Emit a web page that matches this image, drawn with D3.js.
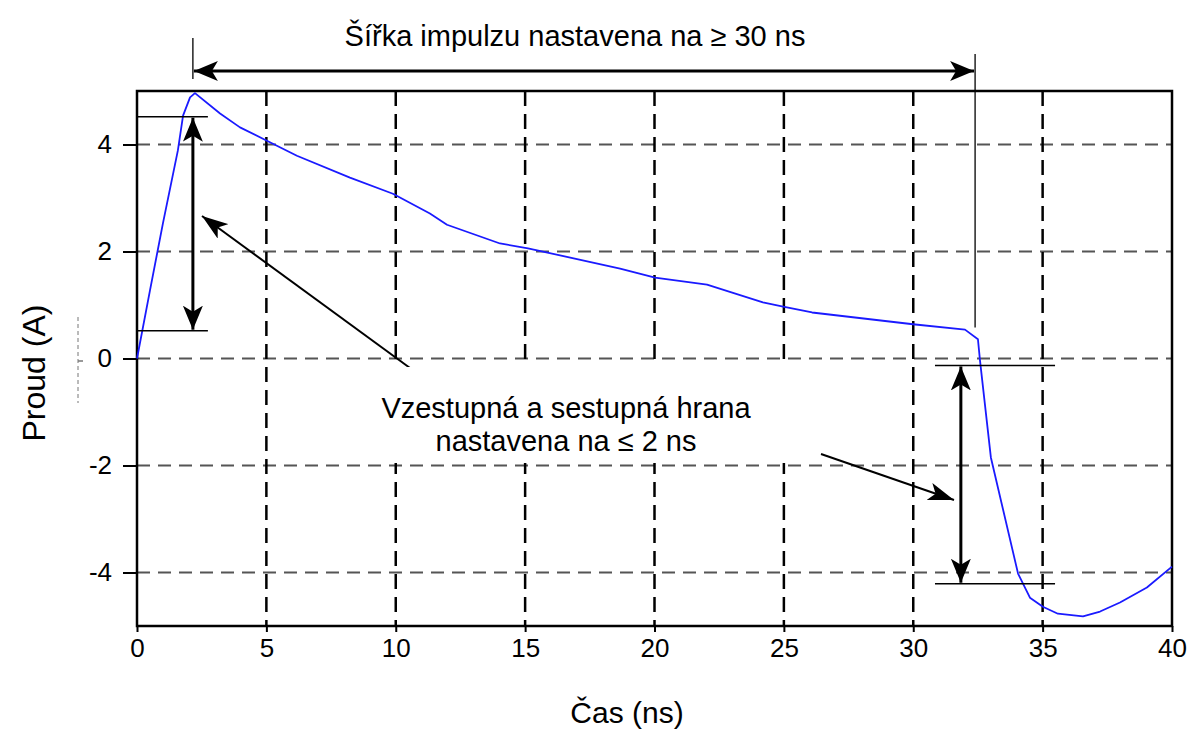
<!DOCTYPE html>
<html>
<head>
<meta charset="utf-8">
<script src="https://cdn.jsdelivr.net/npm/d3@7"></script>
<style>
  html, body { margin: 0; padding: 0; background: #fff; }
  svg { display: block; font-family: "Liberation Sans", Arial, sans-serif; }
</style>
</head>
<body>
<svg id="chart" width="1190" height="729"></svg>
<script>
// Pulse waveform: time (ns) and current (A)
const timeNs = [0, 0.5, 1.0, 1.58, 1.78, 2.05, 2.24, 3.21, 3.98, 5.02, 6.18, 8.23, 9.89, 11.32, 11.98,
  14.03, 15.11, 18.67, 20.02, 22.03, 24.19, 24.97, 26.09, 29.99, 32.0, 32.5, 32.58, 33.0, 34.05,
  34.51, 35.01, 35.59, 36.56, 37.22, 37.99, 39.03, 40.0];
const currentA = [0, 1.27, 2.52, 3.89, 4.54, 4.88, 4.96, 4.58, 4.32, 4.07, 3.79, 3.38, 3.08, 2.71, 2.50,
  2.15, 2.06, 1.68, 1.51, 1.38, 1.05, 0.97, 0.86, 0.64, 0.54, 0.36, -0.04, -1.85, -4.02,
  -4.47, -4.64, -4.77, -4.82, -4.73, -4.56, -4.28, -3.89];

const xTicks = [0, 5, 10, 15, 20, 25, 30, 35, 40];
const yTicks = [-4, -2, 0, 2, 4];

const titleText = "Šířka impulzu nastavena na \u2265 30 ns";
const edgeText = ["Vzestupná a sestupná hrana", "nastavena na \u2264 2 ns"];
const xLabel = "Čas (ns)";
const yLabel = "Proud (A)";

// Annotation anchors in data units
const widthStart = 2.16, widthEnd = 32.39;     // pulse width markers (ns)
const riseTop = 4.52, riseBottom = 0.52;       // rising edge bracket (A)
const fallTop = -0.13, fallBottom = -4.21;     // falling edge bracket (A)
const fallArrowX = 31.84;

const svg = d3.select("#chart");
const margin = { left: 137, top: 91, right: 18, bottom: 103 };
const W = 1190, H = 729;
const x = d3.scaleLinear().domain([0, 40]).range([margin.left, W - margin.right]);
const y = d3.scaleLinear().domain([-5, 5]).range([H - margin.bottom, margin.top]);

// Arrowhead markers
const defs = svg.append("defs");
function marker(id, w, h) {
  defs.append("marker").attr("id", id)
    .attr("viewBox", `0 -${h / 2} ${w} ${h}`).attr("refX", w).attr("refY", 0)
    .attr("markerUnits", "userSpaceOnUse").attr("markerWidth", w).attr("markerHeight", h)
    .attr("orient", "auto-start-reverse")
    .append("path").attr("d", `M0,-${h / 2}L${w},0L0,${h / 2}L${w * 0.25},0Z`).attr("fill", "#000");
}
marker("headBig", 24, 20);
marker("headThin", 26, 18);

// Grid lines
const grid = svg.append("g");
grid.selectAll(".hg").data(yTicks).join("line")
  .attr("x1", x(0)).attr("x2", x(40))
  .attr("y1", d => y(d)).attr("y2", d => y(d))
  .attr("stroke", "#555").attr("stroke-width", 2).attr("stroke-dasharray", "13,8");
grid.selectAll(".vg").data(xTicks.filter(d => d > 0 && d < 40)).join("line")
  .attr("x1", d => x(d)).attr("x2", d => x(d))
  .attr("y1", y(5)).attr("y2", y(-5))
  .attr("stroke", "#000").attr("stroke-width", 2.5).attr("stroke-dasharray", "15,8");

// Axes
const xAxis = svg.append("g").attr("transform", `translate(0,${y(-5)})`)
  .call(d3.axisBottom(x).tickValues(xTicks).tickSize(6).tickPadding(7).tickFormat(d => String(d)));
const yAxis = svg.append("g").attr("transform", `translate(${x(0)},0)`)
  .call(d3.axisLeft(y).tickValues(yTicks).tickSize(14).tickPadding(11).tickFormat(d => String(d)));
[xAxis, yAxis].forEach(a => {
  a.attr("font-size", 26).attr("font-family", "'Liberation Sans', Arial, sans-serif");
  a.select(".domain").remove();
  a.selectAll("line").attr("stroke", "#000").attr("stroke-width", 2);
  a.selectAll("text").attr("font-size", 26).attr("fill", "#000");
});

// Plot frame
svg.append("rect").attr("x", x(0)).attr("y", y(5))
  .attr("width", x(40) - x(0)).attr("height", y(-5) - y(5))
  .attr("fill", "none").attr("stroke", "#000").attr("stroke-width", 2.5);

// Waveform
const pts = timeNs.map((t, i) => [t, currentA[i]]);
svg.append("path").datum(pts)
  .attr("d", d3.line().x(d => x(d[0])).y(d => y(d[1])))
  .attr("fill", "none").attr("stroke", "#1a1aff").attr("stroke-width", 1.8)
  .attr("stroke-linejoin", "round");

// Pulse width annotation
const ann = svg.append("g").attr("stroke", "#000");
ann.append("line").attr("x1", x(widthStart)).attr("x2", x(widthStart)).attr("y1", 38).attr("y2", 79)
  .attr("stroke-width", 1.3);
ann.append("line").attr("x1", x(widthEnd)).attr("x2", x(widthEnd)).attr("y1", 54).attr("y2", y(0.58))
  .attr("stroke-width", 1.3);
ann.append("line").attr("x1", x(widthStart) + 1).attr("x2", x(widthEnd) - 1).attr("y1", 71).attr("y2", 71)
  .attr("stroke-width", 3)
  .attr("marker-start", "url(#headBig)").attr("marker-end", "url(#headBig)");

// Rising edge bracket
[riseTop, riseBottom].forEach(v => {
  ann.append("line").attr("x1", x(0)).attr("x2", x(2.74)).attr("y1", y(v)).attr("y2", y(v)).attr("stroke-width", 1.5);
});
ann.append("line").attr("x1", x(2.16)).attr("x2", x(2.16)).attr("y1", y(riseTop) + 1).attr("y2", y(riseBottom) - 1)
  .attr("stroke-width", 3)
  .attr("marker-start", "url(#headBig)").attr("marker-end", "url(#headBig)");

// Falling edge bracket
[fallTop, fallBottom].forEach(v => {
  ann.append("line").attr("x1", x(30.84)).attr("x2", x(35.48)).attr("y1", y(v)).attr("y2", y(v)).attr("stroke-width", 1.5);
});
ann.append("line").attr("x1", x(fallArrowX)).attr("x2", x(fallArrowX)).attr("y1", y(fallTop) + 1).attr("y2", y(fallBottom) - 1)
  .attr("stroke-width", 3)
  .attr("marker-start", "url(#headBig)").attr("marker-end", "url(#headBig)");

// Pointer arrows from the edge note
ann.append("line").attr("x1", 410).attr("y1", 368).attr("x2", 202).attr("y2", 216)
  .attr("stroke-width", 2).attr("marker-end", "url(#headThin)");
ann.append("line").attr("x1", 821).attr("y1", 454).attr("x2", 954).attr("y2", 500)
  .attr("stroke-width", 2).attr("marker-end", "url(#headThin)");

// Edge note on a white panel
svg.append("rect").attr("x", 300).attr("y", 367).attr("width", 518).attr("height", 96).attr("fill", "#fff");
svg.append("g").selectAll("text").data(edgeText).join("text")
  .attr("x", 566).attr("y", (d, i) => 418 + i * 33)
  .attr("text-anchor", "middle").attr("font-size", 29).attr("fill", "#000").text(d => d);

// Titles
svg.append("text").attr("x", 575).attr("y", 46).attr("text-anchor", "middle")
  .attr("font-size", 29).attr("fill", "#000").text(titleText);
svg.append("text").attr("x", 627).attr("y", 723).attr("text-anchor", "middle")
  .attr("font-size", 30).attr("fill", "#000").text(xLabel);
svg.append("text").attr("transform", "translate(45,373) rotate(-90)").attr("text-anchor", "middle")
  .attr("font-size", 32).attr("fill", "#000").text(yLabel);

// Faint remnants of an older axis label
svg.append("line").attr("x1", 78).attr("x2", 78).attr("y1", 317).attr("y2", 403)
  .attr("stroke", "#777").attr("stroke-width", 1).attr("stroke-dasharray", "4,3");
svg.append("line").attr("x1", 78).attr("x2", 83).attr("y1", 361).attr("y2", 361)
  .attr("stroke", "#777").attr("stroke-width", 1.5);
</script>
</body>
</html>
